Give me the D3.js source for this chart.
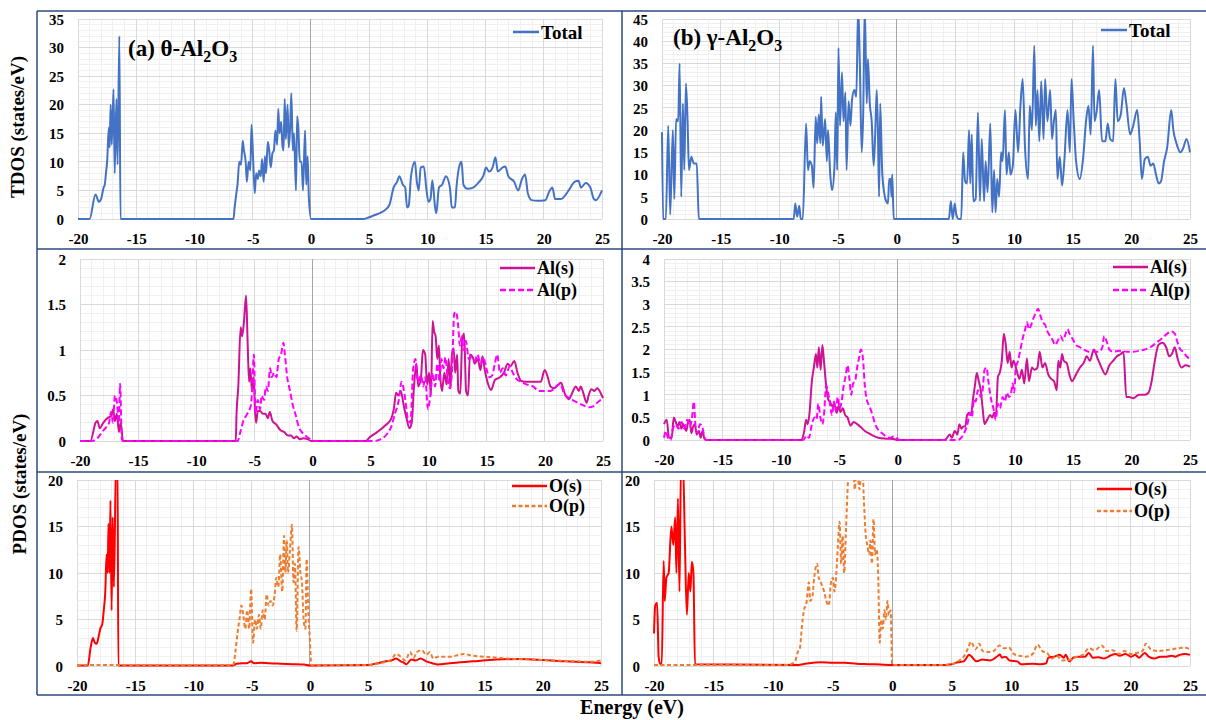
<!DOCTYPE html>
<html><head><meta charset="utf-8">
<script src="https://cdn.jsdelivr.net/npm/d3@7"></script>
<style>
html,body{margin:0;padding:0;background:#fff;}
svg{display:block;font-family:"Liberation Serif","Times New Roman",serif;font-weight:bold;}
</style></head><body>
<svg id="chart" width="1206" height="720"></svg>
<script>
// ---- Energy axis ----
const energyTicks = [-20, -15, -10, -5, 0, 5, 10, 15, 20, 25];

// ---- Y tick labels per panel ----
const tdosThetaTicks = [0, 5, 10, 15, 20, 25, 30, 35];
const tdosGammaTicks = [0, 5, 10, 15, 20, 25, 30, 35, 40, 45];
const alThetaTicks = [0, 0.5, 1, 1.5, 2];
const alGammaTicks = [0, 0.5, 1, 1.5, 2, 2.5, 3, 3.5, 4];
const oTicks = [0, 5, 10, 15, 20];

// ---- Series: [energy (eV), DOS (states/eV)] ----
const thetaTotal = [[-20,0],[-19.0,0],[-18.5,4.3],[-18.2,3],[-18.0,3.6],[-17.8,5.5],[-17.7,6],[-17.6,8],[-17.5,10],[-17.35,16],[-17.28,12.5],[-17.2,20],[-17.1,13],[-16.95,22.7],[-16.85,8],[-16.7,21],[-16.6,9.5],[-16.45,32],[-16.35,0],[-6.65,0],[-6.55,2],[-6.4,4.5],[-6.3,6],[-6.15,10],[-6.0,9.5],[-5.85,13.7],[-5.75,12],[-5.6,10],[-5.5,6.5],[-5.35,10],[-5.2,8.5],[-5.1,16.5],[-4.95,10],[-4.82,4.5],[-4.7,8],[-4.55,7],[-4.45,8.5],[-4.3,7.5],[-4.2,10.5],[-4.05,6.5],[-3.95,11],[-3.85,8],[-3.7,13.5],[-3.58,12],[-3.45,9],[-3.3,11.5],[-3.18,12],[-3.05,15.5],[-2.9,13],[-2.8,19.3],[-2.7,15],[-2.55,17],[-2.45,13],[-2.35,12],[-2.25,21],[-2.15,14],[-2.0,20],[-1.9,12.5],[-1.78,16],[-1.68,22],[-1.55,12],[-1.45,15],[-1.28,5],[-1.18,18],[-1.08,16],[-0.95,10],[-0.8,10],[-0.68,5],[-0.5,15.5],[-0.4,6],[-0.28,11],[-0.18,4],[0.02,0],[4.55,0],[5,0.3],[5.5,0.7],[6,1.1],[6.5,1.8],[6.75,2.5],[7.1,5.5],[7.4,6.5],[7.6,7.5],[7.9,6],[8.1,5.5],[8.26,2],[8.4,2.3],[8.6,7.5],[8.93,10],[9.1,6.5],[9.26,5],[9.43,9],[9.7,9.2],[9.93,5],[10.1,3],[10.27,3.5],[10.43,6.8],[10.67,2],[10.77,1],[11.0,5.5],[11.27,6],[11.6,7.5],[11.94,5.5],[12.1,2],[12.37,2],[12.5,5.5],[12.78,9.5],[12.94,10],[13.1,6],[13.44,5.3],[13.94,5.5],[14.45,6.5],[14.8,7.5],[15.05,9],[15.3,8.3],[15.6,9],[15.85,10.8],[16.05,8.3],[16.45,9],[16.7,9.2],[16.95,7.5],[17.46,6.5],[17.8,5],[18.13,7],[18.4,7.8],[18.63,4.5],[18.96,3.3],[19.46,3.2],[20.13,3.3],[20.47,4.8],[20.74,5.5],[20.97,3.5],[21.47,3.5],[22.14,5],[22.64,6.5],[22.98,6.7],[23.2,5.5],[23.6,6.3],[24.0,5.5],[24.3,3.5],[24.48,3.3],[25,5]];

const gammaTotal = [[-20,19.5],[-19.9,0],[-19.67,0],[-19.47,21],[-19.3,1],[-19.08,20],[-18.95,4.5],[-18.8,22.5],[-18.62,22],[-18.5,35],[-18.36,5],[-18.22,26],[-18.1,11],[-17.96,30.5],[-17.82,22],[-17.7,11],[-17.5,14],[-17.3,12.5],[-17.04,12.5],[-16.86,0],[-8.78,0],[-8.64,3.5],[-8.48,0.5],[-8.3,3],[-8.18,0],[-8.0,0],[-7.72,21.5],[-7.56,11],[-7.42,13],[-7.23,12],[-7.08,7],[-6.9,23],[-6.77,17],[-6.64,23.5],[-6.5,17],[-6.44,27.5],[-6.3,16.5],[-6.1,22.5],[-5.95,13],[-5.85,20],[-5.66,10],[-5.5,6.5],[-5.3,12],[-5.19,24],[-5.07,11],[-4.96,38.5],[-4.83,21],[-4.66,33],[-4.53,22],[-4.37,28.5],[-4.27,11],[-4.1,26.5],[-3.94,21],[-3.8,27],[-3.6,29],[-3.44,27.5],[-3.28,48],[-3.14,35],[-2.98,15],[-2.85,24],[-2.72,48],[-2.55,26],[-2.45,36],[-2.29,26],[-2.13,22],[-1.96,12],[-1.83,19],[-1.7,29],[-1.6,20],[-1.5,5],[-1.4,26],[-1.24,11],[-1.07,6],[-0.9,4],[-0.74,3.5],[-0.64,9],[-0.51,9],[-0.44,5],[-0.38,10],[-0.25,0],[4.45,0],[4.62,4],[4.78,0],[4.95,3.5],[5.08,1],[5.28,0],[5.5,0],[5.67,15],[5.83,8.5],[6.0,8],[6.17,20],[6.27,8],[6.4,19],[6.53,4],[6.73,4.5],[6.93,24],[7.1,4],[7.25,18],[7.45,4],[7.58,13],[7.75,6],[7.98,21.5],[8.15,1.5],[8.3,11],[8.43,1.5],[8.57,9],[8.73,5],[8.9,15],[9.03,13],[9.23,24.5],[9.36,10],[9.56,15],[9.7,10],[9.9,12],[10.12,24.5],[10.35,15],[10.55,25.5],[10.74,31.5],[10.94,16],[11.2,9],[11.34,25.5],[11.53,20],[11.73,39],[11.86,21],[12.0,29],[12.16,17.5],[12.32,31],[12.52,18],[12.65,31.5],[12.85,22],[13.08,29],[13.24,18],[13.4,22],[13.57,24.5],[13.7,9],[13.9,14],[14.1,7.5],[14.3,13.5],[14.56,24.5],[14.76,15],[14.9,31.5],[15.09,22],[15.29,13],[15.6,9],[15.9,14],[16.14,22],[16.34,25.5],[16.54,19],[16.73,39],[16.86,22],[17.03,24],[17.26,29],[17.5,17.5],[17.79,17.5],[17.99,21.5],[18.19,18],[18.45,17.5],[18.64,31.5],[18.84,22],[19.1,23.5],[19.37,29.5],[19.57,26],[19.9,19],[20.16,21],[20.5,24.5],[20.7,18],[20.9,9],[21.15,13.5],[21.4,14],[21.64,12],[21.87,12.5],[22.1,10],[22.33,8],[22.53,8.5],[22.79,13],[23.05,16],[23.4,24.5],[23.58,20],[23.85,17],[24.18,15],[24.43,16],[24.7,18],[25,15]];

const thetaAlS = [[-20,0],[-19.1,0],[-18.66,0.2],[-18.5,0.22],[-18.3,0.14],[-18.0,0.2],[-17.66,0.25],[-17.3,0.28],[-17.15,0.35],[-17.0,0.22],[-16.83,0.3],[-16.65,0.1],[-16.5,0.2],[-16.3,0],[-6.6,0],[-6.53,0.3],[-6.38,0.6],[-6.18,1.25],[-6.05,1.15],[-5.9,1.3],[-5.71,1.6],[-5.58,1.1],[-5.45,0.65],[-5.35,0.8],[-5.2,0.55],[-5.05,0.7],[-4.95,0.35],[-4.85,0.2],[-4.7,0.33],[-4.5,0.33],[-4.27,0.3],[-4.04,0.3],[-3.84,0.25],[-3.67,0.32],[-3.44,0.22],[-3.1,0.18],[-2.77,0.12],[-2.44,0.1],[-2.1,0.06],[-1.84,0.06],[-1.6,0.03],[-1.34,0.05],[-1.1,0.02],[-0.77,0.03],[-0.43,0.02],[-0.1,0],[4.6,0],[4.92,0.04],[5.6,0.1],[6.26,0.17],[6.76,0.24],[7.0,0.35],[7.2,0.53],[7.4,0.5],[7.6,0.55],[7.87,0.38],[8.1,0.25],[8.34,0.14],[8.54,0.2],[8.74,0.6],[8.94,0.85],[9.1,0.6],[9.34,0.7],[9.5,1.0],[9.7,0.95],[9.87,0.62],[10.04,0.75],[10.2,0.5],[10.34,1.32],[10.47,1.2],[10.6,1.15],[10.74,0.9],[10.88,1.05],[11.0,0.7],[11.15,0.55],[11.35,0.75],[11.55,0.62],[11.72,0.9],[11.88,0.58],[12.0,0.95],[12.15,1.02],[12.28,0.75],[12.45,0.95],[12.55,0.55],[12.72,0.52],[12.88,1.1],[13.05,1.18],[13.22,0.55],[13.39,0.5],[13.55,0.95],[13.8,0.92],[13.96,0.85],[14.22,0.9],[14.46,0.78],[14.63,0.93],[14.83,0.78],[15.13,0.62],[15.36,0.56],[15.7,0.67],[16.13,0.7],[16.47,0.75],[16.8,0.85],[17.03,0.82],[17.37,0.88],[17.64,0.75],[17.97,0.66],[18.47,0.65],[18.97,0.65],[19.64,0.65],[19.98,0.78],[20.25,0.7],[20.48,0.6],[20.82,0.58],[21.15,0.62],[21.39,0.64],[21.72,0.52],[22.06,0.46],[22.32,0.52],[22.66,0.6],[22.92,0.55],[23.08,0.6],[23.32,0.52],[23.59,0.42],[23.76,0.5],[24.0,0.57],[24.26,0.55],[24.5,0.58],[24.83,0.52],[25,0.47]];

const thetaAlP = [[-20,0],[-19.0,0],[-18.5,0.03],[-18.1,0.1],[-17.76,0.15],[-17.5,0.2],[-17.33,0.32],[-17.16,0.2],[-17.0,0.5],[-16.8,0.4],[-16.65,0.2],[-16.55,0.63],[-16.4,0.02],[-16.3,0],[-6.45,0],[-6.2,0.1],[-5.95,0.22],[-5.6,0.3],[-5.28,0.4],[-5.18,0.6],[-5.04,0.95],[-4.9,0.3],[-4.71,0.45],[-4.5,0.35],[-4.37,0.5],[-4.17,0.45],[-4.0,0.6],[-3.84,0.55],[-3.64,0.8],[-3.5,0.7],[-3.3,0.75],[-3.1,0.7],[-2.9,0.9],[-2.7,0.95],[-2.5,1.08],[-2.37,0.95],[-2.17,0.7],[-1.93,0.55],[-1.7,0.4],[-1.43,0.28],[-1.16,0.15],[-0.93,0.1],[-0.7,0.07],[-0.43,0.04],[-0.17,0.02],[0.07,0],[5.26,0],[5.9,0.02],[6.43,0.08],[6.76,0.15],[7.1,0.3],[7.43,0.45],[7.67,0.65],[7.94,0.5],[8.2,0.25],[8.43,0.2],[8.67,0.8],[8.87,0.9],[9.07,0.65],[9.34,0.72],[9.54,0.6],[9.7,0.7],[9.94,0.35],[10.14,0.5],[10.34,0.75],[10.55,0.6],[10.75,0.85],[10.94,0.65],[11.1,0.9],[11.28,0.8],[11.45,0.92],[11.62,0.7],[11.82,0.58],[12.0,0.75],[12.2,1.4],[12.35,1.42],[12.55,1.25],[12.68,1.05],[12.85,1.15],[13.02,1.0],[13.2,1.1],[13.45,0.9],[13.68,0.92],[13.96,0.88],[14.2,0.95],[14.46,0.85],[14.7,0.92],[14.96,0.8],[15.23,0.7],[15.46,0.72],[15.7,0.85],[15.9,0.95],[16.13,0.75],[16.37,0.8],[16.63,0.72],[16.97,0.82],[17.24,0.75],[17.57,0.68],[17.97,0.65],[18.47,0.62],[18.97,0.6],[19.48,0.55],[19.98,0.55],[20.48,0.55],[20.98,0.6],[21.32,0.63],[21.65,0.52],[22.0,0.48],[22.39,0.45],[22.83,0.42],[23.16,0.4],[23.5,0.38],[23.83,0.37],[24.16,0.38],[24.5,0.42],[25,0.47]];

const gammaAlS = [[-20,0.35],[-19.77,0.45],[-19.57,0.05],[-19.34,0.05],[-19.17,0.5],[-19.0,0.4],[-18.84,0.3],[-18.68,0.4],[-18.51,0.25],[-18.35,0.35],[-18.1,0.2],[-17.93,0.4],[-17.8,0.45],[-17.66,0.15],[-17.5,0.3],[-17.36,0.35],[-17.2,0.12],[-17.0,0.2],[-16.86,0.05],[-16.7,0.2],[-16.53,0.02],[-16.37,0],[-8.27,0],[-8.0,0.2],[-7.84,0.45],[-7.7,0.35],[-7.55,0.6],[-7.35,1.3],[-7.18,1.6],[-7.0,1.9],[-6.88,1.6],[-6.75,2.05],[-6.6,1.55],[-6.45,2.1],[-6.3,1.7],[-6.13,1.2],[-5.96,0.9],[-5.8,0.85],[-5.63,0.75],[-5.43,0.8],[-5.23,0.6],[-5.07,0.75],[-4.9,0.62],[-4.7,0.7],[-4.5,0.55],[-4.3,0.5],[-4.04,0.32],[-3.78,0.4],[-3.48,0.35],[-3.15,0.28],[-2.82,0.2],[-2.5,0.15],[-2.16,0.1],[-1.67,0.05],[-1.0,0.03],[-0.34,0.02],[0,0],[4.0,0],[4.12,0.02],[4.45,0.12],[4.62,0.05],[4.88,0.2],[5.1,0.12],[5.27,0.35],[5.45,0.25],[5.6,0.3],[5.77,0.3],[5.93,0.55],[6.1,0.6],[6.26,0.55],[6.43,0.9],[6.6,1.2],[6.76,1.48],[6.93,1.3],[7.1,1.1],[7.26,0.7],[7.42,0.35],[7.65,0.45],[7.9,0.55],[8.08,0.5],[8.25,0.6],[8.4,0.55],[8.57,1.4],[8.74,1.5],[8.9,1.75],[9.07,2.35],[9.24,2.1],[9.4,1.7],[9.57,1.95],[9.73,1.6],[9.9,1.75],[10.16,1.55],[10.4,1.35],[10.62,1.55],[10.82,1.25],[11.05,1.8],[11.22,1.3],[11.48,1.6],[11.7,1.55],[11.95,1.6],[12.14,1.95],[12.37,1.6],[12.6,1.7],[12.87,1.45],[13.13,1.35],[13.37,1.3],[13.6,1.1],[13.73,1.75],[13.9,1.6],[14.05,1.9],[14.2,1.75],[14.45,1.7],[14.68,1.45],[14.9,1.3],[15.25,1.45],[15.58,1.6],[15.9,1.7],[16.17,1.85],[16.44,1.75],[16.77,2.0],[17.1,1.8],[17.43,1.6],[17.76,1.45],[18.1,1.65],[18.42,1.75],[18.75,1.85],[19.08,1.9],[19.31,1.95],[19.55,0.95],[19.8,0.95],[20.14,0.92],[20.63,1.0],[21.13,1.0],[21.46,1.05],[21.72,1.3],[21.96,1.7],[22.3,2.1],[22.63,2.15],[22.96,2.05],[23.22,1.85],[23.45,1.9],[23.7,2.05],[23.94,1.8],[24.27,1.6],[24.6,1.65],[25,1.62]];

const gammaAlP = [[-20,0.05],[-19.83,0.2],[-19.67,0.05],[-19.43,0],[-19.24,0.25],[-19.0,0.35],[-18.77,0.25],[-18.5,0.4],[-18.25,0.25],[-18.0,0.45],[-17.8,0.3],[-17.6,0.5],[-17.45,0.85],[-17.3,0.3],[-17.13,0.15],[-16.93,0.35],[-16.73,0.3],[-16.53,0.05],[-16.33,0],[-8.1,0],[-7.78,0.1],[-7.6,0.05],[-7.35,0.35],[-7.1,0.5],[-6.95,0.45],[-6.8,0.8],[-6.62,0.5],[-6.45,0.35],[-6.3,0.6],[-6.13,1.2],[-5.96,1.05],[-5.8,0.8],[-5.63,0.55],[-5.46,0.85],[-5.3,0.65],[-5.13,0.95],[-4.97,0.7],[-4.8,0.85],[-4.63,1.2],[-4.47,1.4],[-4.3,1.65],[-4.14,1.35],[-3.98,1.0],[-3.82,1.25],[-3.65,1.3],[-3.48,1.6],[-3.32,1.8],[-3.15,2.0],[-2.98,1.8],[-2.82,1.2],[-2.66,0.9],[-2.43,0.75],[-2.16,0.55],[-1.93,0.35],[-1.67,0.22],[-1.34,0.15],[-1.0,0.08],[-0.67,0.05],[-0.34,0.08],[-0.08,0.04],[0.15,0],[5.1,0],[5.43,0.05],[5.76,0.2],[6.0,0.4],[6.16,0.6],[6.33,0.5],[6.53,0.9],[6.66,0.85],[6.86,1.1],[7.1,0.95],[7.26,1.1],[7.42,1.55],[7.6,1.6],[7.75,1.3],[7.98,0.9],[8.18,0.7],[8.38,0.45],[8.57,0.8],[8.74,0.7],[8.97,0.95],[9.17,0.85],[9.33,1.05],[9.5,0.95],[9.67,1.0],[9.83,1.25],[9.96,1.05],[10.1,1.6],[10.29,1.75],[10.49,2.0],[10.69,2.25],[10.9,2.45],[11.05,2.6],[11.22,2.45],[11.42,2.55],[11.62,2.7],[11.88,2.85],[12.0,2.9],[12.2,2.75],[12.4,2.6],[12.6,2.55],[12.8,2.4],[13.03,2.3],[13.27,2.2],[13.46,2.1],[13.7,2.2],[13.93,2.3],[14.13,2.2],[14.36,2.35],[14.53,2.45],[14.69,2.35],[14.92,2.25],[15.25,2.1],[15.58,2.05],[15.9,2.0],[16.34,1.95],[16.84,1.95],[17.23,1.95],[17.5,2.05],[17.66,2.3],[17.9,2.15],[18.1,2.0],[18.42,1.95],[18.98,1.97],[19.64,1.95],[20.14,1.95],[20.63,1.97],[21.13,2.0],[21.62,2.05],[22.12,2.15],[22.63,2.25],[23.05,2.35],[23.4,2.4],[23.7,2.35],[23.94,2.15],[24.17,2.0],[24.43,1.95],[24.7,1.85],[25,1.8]];

const thetaOS = [[-20,0.05],[-19.07,0.05],[-18.83,2],[-18.63,3],[-18.47,2.5],[-18.3,2.4],[-18.17,3],[-18.0,4],[-17.83,4.5],[-17.7,6],[-17.57,8],[-17.46,12],[-17.36,10],[-17.3,15.3],[-17.2,10],[-17.13,17.8],[-17.03,6],[-16.93,16],[-16.83,8.5],[-16.65,22],[-16.52,22],[-16.45,0.05],[-6.6,0.05],[-6.3,0.25],[-5.8,0.3],[-5.4,0.3],[-5.05,0.5],[-4.8,0.3],[-4.2,0.35],[-3.5,0.3],[-2.5,0.25],[-1.5,0.2],[-0.5,0.15],[0,0.05],[5,0.1],[5.8,0.3],[6.5,0.5],[7.0,0.6],[7.4,0.8],[7.8,0.5],[8.0,0.4],[8.3,0.2],[8.7,0.7],[9.1,0.6],[9.5,0.8],[10.0,0.5],[10.5,0.3],[10.8,0.2],[11.0,0.15],[12,0.3],[14,0.5],[16,0.7],[18,0.75],[20,0.65],[22,0.5],[24,0.4],[25,0.3]];

const thetaOP = [[-20,0.1],[-6.6,0.1],[-6.55,0.2],[-6.4,1.5],[-6.22,3.5],[-6.05,5],[-5.88,6.5],[-5.72,5.5],[-5.55,4],[-5.38,6],[-5.21,4],[-5.05,8.3],[-4.88,2.5],[-4.71,5],[-4.55,4],[-4.38,5.5],[-4.22,4],[-4.05,6],[-3.88,5],[-3.71,7.7],[-3.55,6.5],[-3.38,7],[-3.21,6.5],[-3.04,7.5],[-2.88,9.5],[-2.71,8.5],[-2.55,12],[-2.38,8],[-2.21,14],[-2.11,10],[-1.98,13.5],[-1.88,10],[-1.71,12.5],[-1.54,15.2],[-1.41,9],[-1.28,11],[-1.14,3.8],[-0.97,12.8],[-0.81,10],[-0.68,9],[-0.54,5],[-0.38,4],[-0.28,11.5],[-0.14,6],[-0.01,3],[0.13,0.1],[5,0.1],[6,0.3],[7,0.7],[7.4,1.3],[7.8,1.0],[8.2,0.6],[8.6,1.5],[8.9,0.9],[9.2,1.5],[9.6,1.7],[10.0,1.2],[10.3,1.5],[10.6,0.8],[11,1.0],[12,1.0],[12.8,1.2],[13.2,1.3],[14,1.1],[15,1.0],[16,0.9],[17,0.8],[18,0.75],[19,0.7],[20,0.65],[21,0.6],[22,0.55],[23,0.5],[24,0.45],[25,0.6]];

const gammaOS = [[-20,3.5],[-19.9,6.5],[-19.74,6.8],[-19.61,1],[-19.48,0.2],[-19.35,0.2],[-19.19,11.3],[-19.1,7],[-18.96,9.5],[-18.77,10],[-18.54,15],[-18.38,13],[-18.22,16],[-18.12,10],[-17.99,18],[-17.86,8],[-17.73,22],[-17.57,22],[-17.4,13],[-17.24,5.5],[-17.08,10],[-16.95,8],[-16.82,11.2],[-16.69,10],[-16.56,0.2],[-8.0,0.1],[-7.5,0.2],[-7,0.3],[-6,0.4],[-5,0.35],[-4,0.35],[-3,0.25],[-2,0.2],[-1,0.15],[0,0.1],[4,0.1],[5,0.2],[5.5,0.4],[6,0.5],[6.2,0.8],[6.44,1.2],[7.1,0.5],[7.58,0.7],[8.23,0.6],[8.88,1.1],[9.04,1.25],[9.2,0.9],[9.5,1.0],[9.85,0.6],[10.5,0.5],[10.8,0.2],[11.8,0.25],[12.45,0.2],[12.93,0.3],[13.1,0.9],[13.58,1.0],[14.07,1.2],[14.4,0.9],[14.56,1.2],[14.88,0.5],[15.2,0.9],[15.69,1.0],[16.18,1.0],[16.5,1.4],[16.83,0.9],[17.3,0.95],[17.8,0.8],[18.29,1.1],[18.77,1.3],[19.1,1.1],[19.58,1.3],[20.07,1.0],[20.4,1.2],[20.72,0.9],[21.2,1.4],[21.53,1.0],[22.0,0.8],[22.5,1.0],[23.0,1.0],[23.47,1.1],[23.8,1.0],[24.13,1.2],[24.61,1.3],[25,1.2]];

const gammaOP = [[-20,0.1],[-8.6,0.1],[-8.48,0.2],[-8.16,0.5],[-7.93,1.5],[-7.74,2],[-7.6,4],[-7.41,6],[-7.2,6.8],[-7.0,9],[-6.88,7],[-6.7,7.5],[-6.55,9.5],[-6.3,11],[-6.17,9.5],[-6.0,9],[-5.72,8],[-5.53,7],[-5.33,6.5],[-5.14,9],[-4.98,9.5],[-4.85,8],[-4.69,10],[-4.56,13],[-4.42,15.5],[-4.29,11],[-4.16,14],[-4.03,10],[-3.9,14],[-3.78,18],[-3.62,22],[-3.3,22],[-3.14,19],[-3.0,22],[-2.75,19],[-2.54,22],[-2.35,17],[-2.22,14],[-2.09,13],[-1.93,12],[-1.83,13.5],[-1.7,11],[-1.57,15.8],[-1.44,12],[-1.31,12.5],[-1.18,10],[-1.05,2.5],[-0.92,5],[-0.79,4],[-0.66,6],[-0.53,5],[-0.4,7],[-0.27,5.5],[-0.14,6],[0.0,0.1],[4,0.1],[5,0.2],[5.5,0.5],[6,1.0],[6.4,2.0],[6.6,2.6],[7,1.8],[7.3,2.4],[7.6,1.6],[8,1.5],[8.5,1.6],[9,2.2],[9.4,1.9],[9.8,2.0],[10.2,1.3],[10.7,1.1],[11.2,1.0],[11.8,1.3],[12.2,2.3],[12.6,1.6],[13.0,1.4],[13.4,0.8],[13.8,1.1],[14.3,0.6],[15,0.7],[15.5,1.0],[16,1.2],[16.5,1.9],[17,1.7],[17.6,2.2],[18,1.6],[18.5,1.7],[19,1.3],[19.5,1.6],[20,1.3],[20.5,1.4],[21,1.6],[21.3,2.4],[21.7,1.8],[22.3,1.6],[23,1.7],[23.5,1.8],[24,1.9],[24.5,2.0],[25,1.8]];

// ---- Series styles ----
const styles = {
  total: {name: "Total", color: "#4472c4", dash: null},
  alS:   {name: "Al(s)", color: "#cc1493", dash: null},
  alP:   {name: "Al(p)", color: "#ff00ff", dash: "6,3"},
  oS:    {name: "O(s)",  color: "#ff0000", dash: null},
  oP:    {name: "O(p)",  color: "#ed7d31", dash: "4,2.5"}
};

// ---- Panel layout ----
const panels = [
  {x0: 78,  x1: 602,  y0: 19,  y1: 219, ymax: 35, ticks: tdosThetaTicks, minor: 1,
   series: [[thetaTotal, styles.total]], legend: {x: 513, y: 32, len: 26, gap: 22, fs: 19}},
  {x0: 662, x1: 1190, y0: 19,  y1: 219, ymax: 45, ticks: tdosGammaTicks, minor: 1,
   series: [[gammaTotal, styles.total]], legend: {x: 1101, y: 30, len: 26, gap: 22, fs: 19}},
  {x0: 80,  x1: 603,  y0: 259, y1: 441, ymax: 2, ticks: alThetaTicks, minor: 0.1,
   series: [[thetaAlS, styles.alS], [thetaAlP, styles.alP]], legend: {x: 500, y: 268, len: 35, gap: 22, fs: 18}},
  {x0: 664, x1: 1190, y0: 259, y1: 440, ymax: 4, ticks: alGammaTicks, minor: 0.1,
   series: [[gammaAlS, styles.alS], [gammaAlP, styles.alP]], legend: {x: 1113, y: 267, len: 35, gap: 23, fs: 18}},
  {x0: 77,  x1: 601,  y0: 480, y1: 666, ymax: 20, ticks: oTicks, minor: 1,
   series: [[thetaOS, styles.oS], [thetaOP, styles.oP]], legend: {x: 512, y: 486, len: 35, gap: 20, fs: 18}},
  {x0: 654, x1: 1190, y0: 480, y1: 666, ymax: 20, ticks: oTicks, minor: 1,
   series: [[gammaOS, styles.oS], [gammaOP, styles.oP]], legend: {x: 1097, y: 489, len: 35, gap: 22, fs: 18}}
];

const svg = d3.select("#chart");
const frameColor = "#2b4a80";
const serif = "'Liberation Serif', 'Times New Roman', serif";

panels.forEach((p, i) => {
  const x = d3.scaleLinear().domain([-20, 25]).range([p.x0, p.x1]);
  const y = d3.scaleLinear().domain([0, p.ymax]).range([p.y1, p.y0]);
  const g = svg.append("g");

  // minor grid
  const minorX = d3.range(-20, 25.001, 1);
  const minorY = d3.range(0, p.ymax + 1e-9, p.minor);
  g.selectAll(null).data(minorX).join("line")
    .attr("x1", d => x(d)).attr("x2", d => x(d)).attr("y1", p.y0).attr("y2", p.y1)
    .attr("stroke", "#f0f0f0").attr("stroke-width", 1).attr("shape-rendering", "crispEdges");
  g.selectAll(null).data(minorY).join("line")
    .attr("x1", p.x0).attr("x2", p.x1).attr("y1", d => y(d)).attr("y2", d => y(d))
    .attr("stroke", "#f0f0f0").attr("stroke-width", 1).attr("shape-rendering", "crispEdges");
  // major grid
  g.selectAll(null).data(energyTicks).join("line")
    .attr("x1", d => x(d)).attr("x2", d => x(d)).attr("y1", p.y0).attr("y2", p.y1)
    .attr("stroke", "#d9d9d9").attr("stroke-width", 1).attr("shape-rendering", "crispEdges");
  g.selectAll(null).data(p.ticks).join("line")
    .attr("x1", p.x0).attr("x2", p.x1).attr("y1", d => y(d)).attr("y2", d => y(d))
    .attr("stroke", "#d9d9d9").attr("stroke-width", 1).attr("shape-rendering", "crispEdges");
  // vertical axis at E = 0
  g.append("line").attr("x1", x(0)).attr("x2", x(0)).attr("y1", p.y0).attr("y2", p.y1)
    .attr("stroke", "#a6a6a6").attr("stroke-width", 1).attr("shape-rendering", "crispEdges");

  // axes labels
  const ya = d3.axisLeft(y).tickValues(p.ticks).tickSize(0).tickPadding(14).tickFormat(d => String(d));
  const yg = g.append("g").attr("transform", `translate(${p.x0},0)`).call(ya);
  const xa = d3.axisBottom(x).tickValues(energyTicks).tickSize(0).tickPadding(14).tickFormat(d => String(d));
  const xg = g.append("g").attr("transform", `translate(0,${p.y1})`).call(xa);
  [yg, xg].forEach(a => {
    a.attr("font-family", serif).attr("font-size", 15);
    a.select(".domain").remove();
    a.selectAll("text").attr("font-weight", "bold").attr("fill", "#000");
  });
  yg.selectAll("text").attr("dy", "0.35em");

  // curves
  const clipId = "clip" + i;
  svg.append("clipPath").attr("id", clipId).append("rect")
    .attr("x", p.x0 - 1).attr("y", p.y0).attr("width", p.x1 - p.x0 + 2).attr("height", p.y1 - p.y0 + 2);
  const line = d3.line().x(d => x(d[0])).y(d => y(d[1])).curve(d3.curveMonotoneX);
  const cg = g.append("g").attr("clip-path", `url(#${clipId})`);
  p.series.forEach(([data, st]) => {
    cg.append("path").datum(data).attr("d", line)
      .attr("fill", "none").attr("stroke", st.color).attr("stroke-width", 2)
      .attr("stroke-linejoin", "round")
      .attr("stroke-dasharray", st.dash);
  });

  // legend
  p.series.forEach(([data, st], k) => {
    const ly = p.legend.y + k * p.legend.gap;
    g.append("line").attr("x1", p.legend.x).attr("x2", p.legend.x + p.legend.len)
      .attr("y1", ly).attr("y2", ly).attr("stroke", st.color).attr("stroke-width", 2.5)
      .attr("stroke-dasharray", st.dash);
    g.append("text").attr("x", p.legend.x + p.legend.len + 2).attr("y", ly).attr("dy", "0.35em")
      .attr("font-size", p.legend.fs).attr("fill", "#000").text(st.name);
  });
});

// panel titles with subscripts
function title(xp, yp, prefix) {
  const t = svg.append("text").attr("x", xp).attr("y", yp).attr("font-size", 23).attr("fill", "#000");
  t.append("tspan").text(prefix + "-Al");
  t.append("tspan").attr("font-size", 16).attr("dy", 6).text("2");
  t.append("tspan").attr("dy", -6).text("O");
  t.append("tspan").attr("font-size", 16).attr("dy", 6).text("3");
}
title(128, 56, "(a) θ");
title(673, 45, "(b) γ");

// frame
const frame = svg.append("g").attr("stroke", frameColor).attr("stroke-width", 1.5).attr("fill", "none");
frame.append("line").attr("x1", 37).attr("x2", 1206).attr("y1", 11).attr("y2", 11);
frame.append("line").attr("x1", 37).attr("x2", 1206).attr("y1", 249).attr("y2", 249);
frame.append("line").attr("x1", 37).attr("x2", 1206).attr("y1", 472).attr("y2", 472);
frame.append("line").attr("x1", 37).attr("x2", 1206).attr("y1", 695).attr("y2", 695);
frame.append("line").attr("x1", 37).attr("x2", 37).attr("y1", 11).attr("y2", 695);
frame.append("line").attr("x1", 622).attr("x2", 622).attr("y1", 11).attr("y2", 695);

// axis titles
svg.append("text").attr("transform", "translate(24,127) rotate(-90)").attr("text-anchor", "middle")
  .attr("font-size", 19).attr("fill", "#000").text("TDOS (states/eV)");
svg.append("text").attr("transform", "translate(26,484) rotate(-90)").attr("text-anchor", "middle")
  .attr("font-size", 19).attr("fill", "#000").text("PDOS (states/eV)");
svg.append("text").attr("x", 632).attr("y", 714).attr("text-anchor", "middle")
  .attr("font-size", 20).attr("fill", "#000").text("Energy (eV)");
</script></body></html>
